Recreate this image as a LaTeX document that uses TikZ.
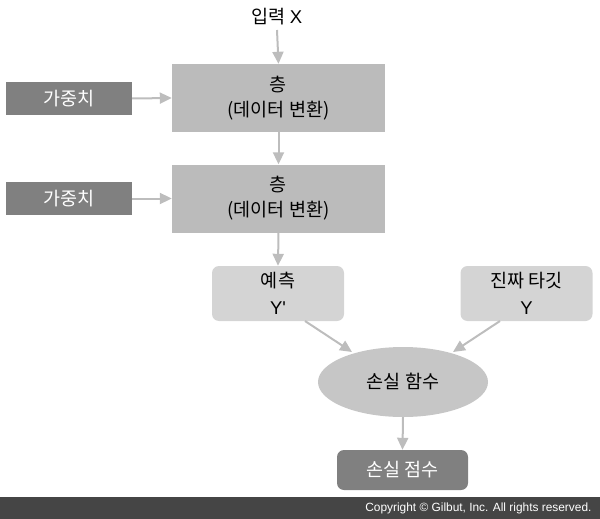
\documentclass[tikz,border=0pt]{standalone}
\usepackage{fontspec}
\setmainfont{Noto Sans CJK KR}
\newfontfamily\lat{Liberation Sans}
\usetikzlibrary{arrows.meta,shapes.geometric}
\definecolor{layerc}{HTML}{BBBBBB}
\definecolor{weightc}{HTML}{808080}
\definecolor{predc}{HTML}{D4D4D4}
\definecolor{ellc}{HTML}{C6C6C6}
\definecolor{arrc}{HTML}{BDBDBD}
\definecolor{footc}{HTML}{454545}
\begin{document}
\begin{tikzpicture}[x=1pt,y=-1pt,
  layerbox/.style={fill=layerc,minimum width=213pt,minimum height=68pt,align=center,font=\fontsize{18.5}{25}\selectfont,inner sep=0pt},
  weightbox/.style={fill=weightc,text=white,minimum width=126pt,minimum height=33pt,font=\fontsize{18.5}{20}\selectfont,inner sep=0pt},
  predbox/.style={fill=predc,rounded corners=7pt,minimum width=132pt,minimum height=55pt,align=center,font=\fontsize{18.5}{27}\selectfont,inner sep=0pt},
  lossell/.style={ellipse,fill=ellc,minimum width=170pt,minimum height=70pt,font=\fontsize{18.5}{20}\selectfont,inner sep=0pt},
  scorebox/.style={fill=weightc,text=white,rounded corners=7pt,minimum width=131pt,minimum height=40pt,font=\fontsize{18.5}{20}\selectfont,inner sep=0pt},
  conn/.style={draw=arrc,line width=2pt,-{Triangle[length=12pt,width=11pt]}}
]
\useasboundingbox (0,0) rectangle (600,519);
\node[font=\fontsize{18.5}{20}\selectfont] (in) at (277,17) {입력 {\lat X}};
\node[layerbox] (l1) at (278.5,98) {층\\(데이터 변환)};
\node[layerbox] (l2) at (278.5,198.5) {층\\(데이터 변환)};
\node[weightbox] (w1) at (69,98.5) {가중치};
\node[weightbox] (w2) at (69,198.5) {가중치};
\node[predbox] (p) at (278,293.5) {예측\\{\lat Y'}};
\node[predbox] (t) at (526.5,293.5) {진짜 타깃\\{\lat Y}};
\node[lossell] (loss) at (403,382) {손실 함수};
\node[scorebox] (s) at (402.5,470) {손실 점수};
\fill[footc] (0,497) rectangle (600,519);
\node[anchor=east,text=white,font=\fontsize{11.9}{13}\lat] (copy) at (595,508) {Copyright © Gilbut, Inc. All rights reserved.};
\draw[conn] (in.south |- 0,30) -- (l1.north);
\draw[conn] (w1.east) -- (l1.west);
\draw[conn] (w2.east) -- (l2.west);
\draw[conn] (l1.south) -- (l2.north);
\draw[conn] (l2.south) -- (p.north);
\coordinate (pa) at (305,321);
\coordinate (ta) at (500,321);
\draw[conn] (pa) -- (352,352);
\draw[conn] (ta) -- (453,352);
\draw[conn] (loss.south) -- (s.north);
\end{tikzpicture}
\end{document}
